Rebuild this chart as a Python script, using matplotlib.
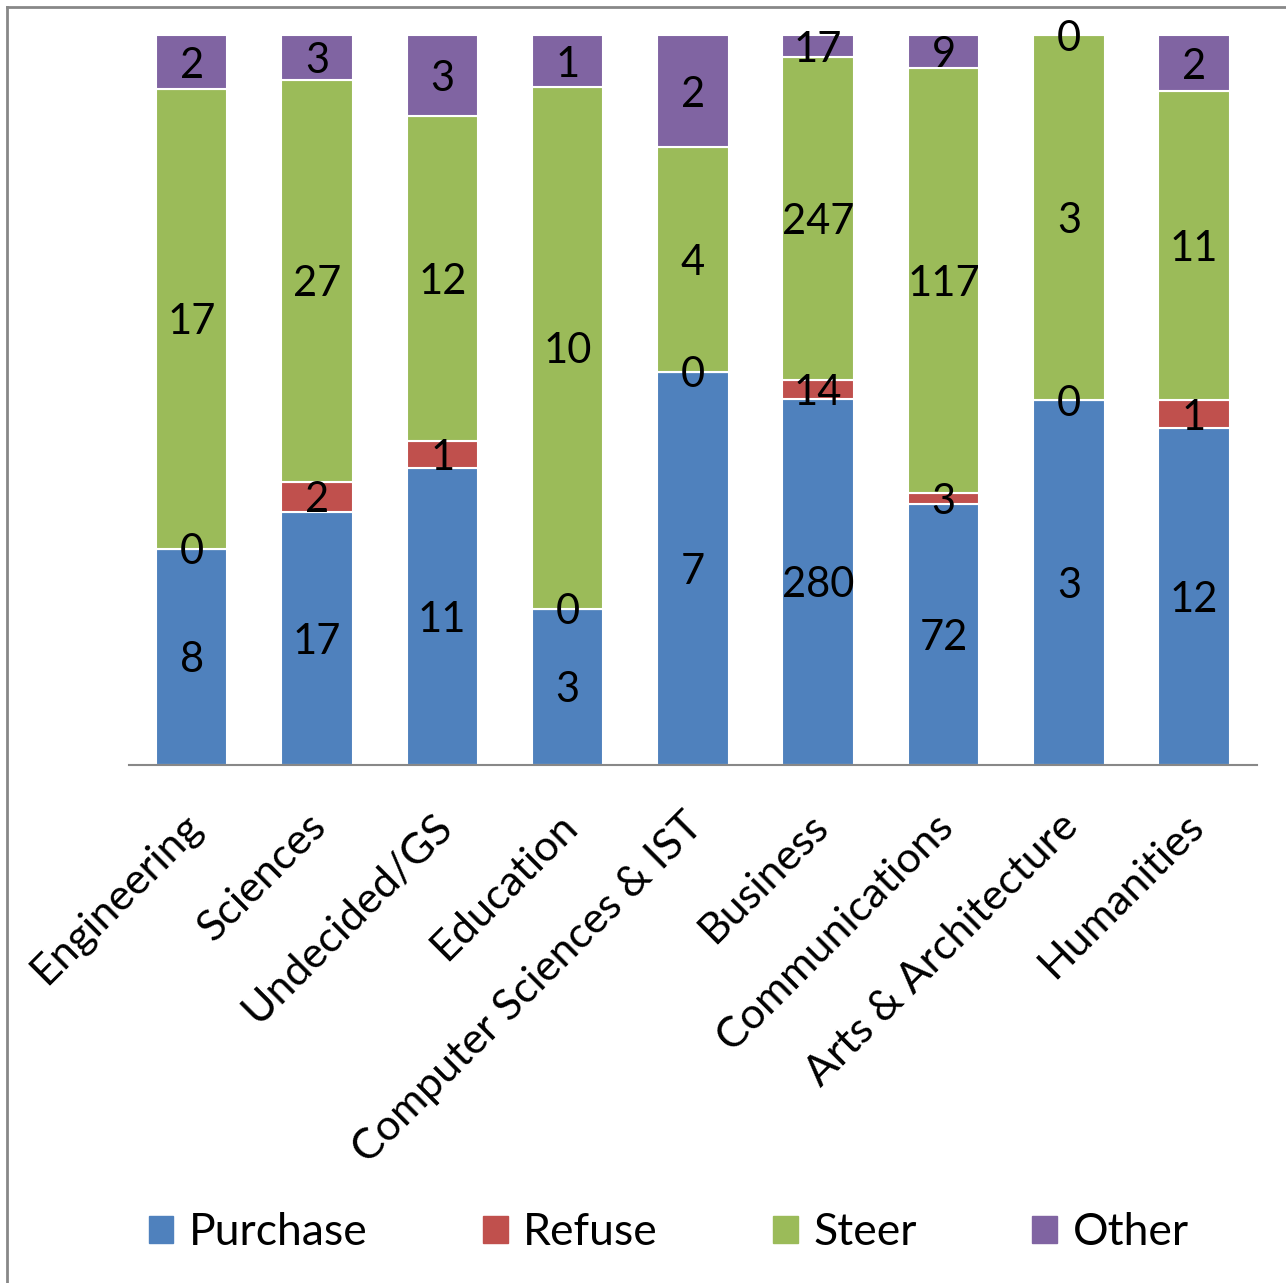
import matplotlib.pyplot as plt
import matplotlib.transforms as mtransforms
import numpy as np
from matplotlib.patches import Patch

plt.rcParams['font.family'] = ['Lato', 'DejaVu Sans']

categories = ['Engineering', 'Sciences', 'Undecided/GS', 'Education',
              'Computer Sciences & IST', 'Business', 'Communications',
              'Arts & Architecture', 'Humanities']
purchase = [8, 17, 11, 3, 7, 280, 72, 3, 12]
refuse = [0, 2, 1, 0, 0, 14, 3, 0, 1]
steer = [17, 27, 12, 10, 4, 247, 117, 3, 11]
other = [2, 3, 3, 1, 2, 17, 9, 0, 2]

series = [('Purchase', purchase, '#4F81BD'),
          ('Refuse', refuse, '#C0504D'),
          ('Steer', steer, '#9BBB59'),
          ('Other', other, '#8064A2')]

totals = np.array(purchase) + np.array(refuse) + np.array(steer) + np.array(other)
x = np.arange(len(categories))

fig = plt.figure(figsize=(12.86, 12.83), dpi=100)
ax = fig.add_axes([0.1003, 0.4037, 0.877, 0.569])

bottom = np.zeros(len(categories))
for name, vals, color in series:
    share = np.array(vals) / totals
    ax.bar(x, share, 0.57, bottom=bottom, color=color, edgecolor='white', linewidth=1.5)
    for xi, b, s, v in zip(x, bottom, share, vals):
        ax.text(xi, b + s / 2, str(v), ha='center', va='center_baseline', fontsize=30)
    bottom += share

ax.set_xlim(-0.5, len(categories) - 0.5)
ax.set_ylim(0, 1)
ax.set_yticks([])
for side in ['left', 'right', 'top']:
    ax.spines[side].set_visible(False)
ax.spines['bottom'].set_color('#888888')
ax.spines['bottom'].set_linewidth(1.5)
ax.set_xticks(x)
ax.set_xticklabels(categories, rotation=45, ha='right', va='top',
                   rotation_mode='anchor', fontsize=31)
ax.tick_params(axis='x', length=0, pad=30)
shift = mtransforms.ScaledTranslation(-10 / 100, 0, fig.dpi_scale_trans)
for lbl in ax.get_xticklabels():
    lbl.set_transform(lbl.get_transform() + shift)

handles = [Patch(color=c, label=n) for n, _, c in series]
fig.legend(handles=handles, loc='center', bbox_to_anchor=(0.52, 0.039), ncol=4,
           frameon=False, fontsize=32, handlelength=0.55, handleheight=0.55,
           handletextpad=0.35, columnspacing=2.6)

# outer frame (left and top edges visible)
fig.add_artist(plt.Line2D([7 / 1286, 7 / 1286], [0, 1 - 7 / 1283], color='#888888', lw=2))
fig.add_artist(plt.Line2D([7 / 1286, 1], [1 - 7 / 1283, 1 - 7 / 1283], color='#888888', lw=2))

fig.savefig('out.png', dpi=100)
